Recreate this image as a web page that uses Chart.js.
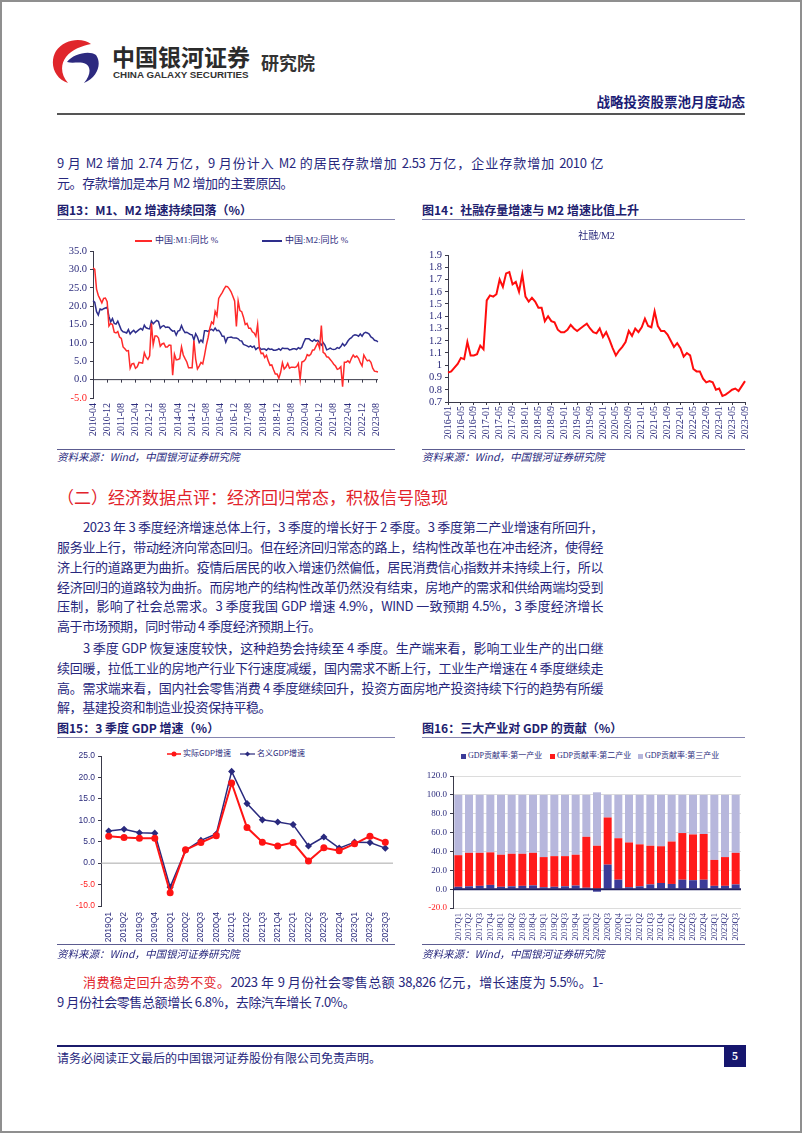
<!DOCTYPE html>
<html>
<head>
<meta charset="utf-8">
<script src="https://cdn.jsdelivr.net/npm/chart.js@4.4.0/dist/chart.umd.min.js"></script>
<style>
body { margin: 0; background: #fff; }
#page { position: relative; width: 802px; height: 1133px; overflow: hidden; background: #fff;
  font-family: "Noto Sans CJK SC", "Noto Sans", sans-serif; color: #27277d; }
.frame { position: absolute; left: 0; top: 0; width: 802px; height: 1133px; box-sizing: border-box; border: 2px solid #8f8f8f; pointer-events: none; }
.abs { position: absolute; white-space: nowrap; }
.ln { position: absolute; left: 57px; width: 546px; height: 20px; line-height: 20px; font-size: 13px;
  letter-spacing: -0.4px; text-align: justify; text-align-last: justify; box-sizing: border-box; }
.ln.last { text-align-last: left; }
.ln.ind { padding-left: 26px; }
.ftitle { position: absolute; font-size: 12px; font-weight: bold; color: #20206e; line-height: 16px; white-space: nowrap; }
.fline { position: absolute; height: 0; border-top: 1.5px solid #8585b0; }
.src { position: absolute; font-size: 10.5px; font-style: italic; color: #27277d; line-height: 14px; white-space: nowrap; }
.sline { position: absolute; height: 0; border-top: 1px solid #5c5c90; }
canvas { position: absolute; }
.lg { position: absolute; font-family: "Liberation Serif", "Noto Sans CJK SC", serif; color: #2b2b7c; white-space: nowrap; line-height: 12px; }
.lgl { display: inline-block; height: 2px; vertical-align: middle; margin-right: 3px; }
.lgs { display: inline-block; width: 5px; height: 5px; vertical-align: middle; margin-right: 2px; }
</style>
</head>
<body>
<div id="page">
  <!-- header -->
  <svg class="abs" style="left:51px;top:38px" width="50" height="46" viewBox="0 0 50 46">
    <path d="M40,6 C31,-1 13,1 5,13 C-2,25 3,40 17,45 C10,37 9,27 15,19 C21,11 31,8 40,6 Z" fill="#e0262b"/>
    <path d="M16,24 C22,16 38,12 45,17 C51,25 47,39 33,45 C40,37 40,29 35,26 C29,23 22,26 16,24 Z" fill="#2d2a7f"/>
  </svg>
  <div class="abs" style="left:112px;top:42px;font-size:23px;font-weight:bold;line-height:28px;color:#2b2b2b">中国银河证券</div>
  <div class="abs" style="left:113px;top:68px;font-family:'Liberation Sans',sans-serif;font-size:9.8px;font-weight:bold;line-height:13px;color:#333">CHINA GALAXY SECURITIES</div>
  <div class="abs" style="left:261px;top:50px;font-size:18px;font-weight:bold;line-height:24px;color:#333">研究院</div>
  <div class="abs" style="right:57px;top:92px;font-size:13.5px;font-weight:bold;line-height:18px;color:#1c1c75">战略投资股票池月度动态</div>
  <div class="abs" style="left:57px;top:113px;width:688px;height:2px;background:#555"></div>

  <div class="ln" style="top:153px">9 月 M2 增加 2.74 万亿，9 月份计入 M2 的居民存款增加 2.53 万亿，企业存款增加 2010 亿</div>
  <div class="ln last" style="top:173px">元。存款增加是本月 M2 增加的主要原因。</div>

  <!-- fig 13 / 14 -->
  <div class="ftitle" style="left:57px;top:202px">图13：M1、M2 增速持续回落（%）</div>
  <div class="fline" style="left:57px;top:219px;width:338px"></div>
  <div class="ftitle" style="left:422px;top:202px">图14：社融存量增速与 M2 增速比值上升</div>
  <div class="fline" style="left:422px;top:219px;width:323px"></div>

  <div class="lg" style="left:135px;top:234px;font-size:9px"><span class="lgl" style="background:#ff2a2a;width:17px"></span>中国:M1:同比 %</div>
  <div class="lg" style="left:262px;top:234px;font-size:9px"><span class="lgl" style="background:#2e2e8c;width:20px"></span>中国:M2:同比 %</div>
  <canvas id="c13" width="338" height="220" style="left:57px;top:228px"></canvas>
  <canvas id="c14" width="340" height="220" style="left:418px;top:228px"></canvas>

  <div class="sline" style="left:57px;top:449px;width:338px"></div>
  <div class="src" style="left:57px;top:450px">资料来源：Wind，中国银河证券研究院</div>
  <div class="sline" style="left:422px;top:449px;width:323px"></div>
  <div class="src" style="left:422px;top:450px">资料来源：Wind，中国银河证券研究院</div>

  <!-- section -->
  <div class="abs" style="left:57px;top:486px;font-size:17px;line-height:22px;color:#e2232b">（二）经济数据点评：经济回归常态，积极信号隐现</div>

  <div class="ln ind" style="top:517px">2023 年 3 季度经济增速总体上行，3 季度的增长好于 2 季度。3 季度第二产业增速有所回升，</div>
  <div class="ln" style="top:537px">服务业上行，带动经济向常态回归。但在经济回归常态的路上，结构性改革也在冲击经济，使得经</div>
  <div class="ln" style="top:557px">济上行的道路更为曲折。疫情后居民的收入增速仍然偏低，居民消费信心指数并未持续上行，所以</div>
  <div class="ln" style="top:577px">经济回归的道路较为曲折。而房地产的结构性改革仍然没有结束，房地产的需求和供给两端均受到</div>
  <div class="ln" style="top:596px">压制，影响了社会总需求。3 季度我国 GDP 增速 4.9%，WIND 一致预期 4.5%，3 季度经济增长</div>
  <div class="ln last" style="top:616px">高于市场预期，同时带动 4 季度经济预期上行。</div>

  <div class="ln ind" style="top:638px">3 季度 GDP 恢复速度较快，这种趋势会持续至 4 季度。生产端来看，影响工业生产的出口继</div>
  <div class="ln" style="top:658px">续回暖，拉低工业的房地产行业下行速度减缓，国内需求不断上行，工业生产增速在 4 季度继续走</div>
  <div class="ln" style="top:678px">高。需求端来看，国内社会零售消费 4 季度继续回升，投资方面房地产投资持续下行的趋势有所缓</div>
  <div class="ln last" style="top:697px">解，基建投资和制造业投资保持平稳。</div>

  <!-- fig 15 / 16 -->
  <div class="ftitle" style="left:57px;top:720px">图15：3 季度 GDP 增速（%）</div>
  <div class="fline" style="left:57px;top:737px;width:338px"></div>
  <div class="ftitle" style="left:422px;top:720px">图16：三大产业对 GDP 的贡献（%）</div>
  <div class="fline" style="left:422px;top:737px;width:323px"></div>

  <div class="lg" style="left:167px;top:747px;font-size:8px;font-family:'Noto Sans CJK SC',sans-serif">
    <svg width="14" height="8" style="vertical-align:middle;margin-right:2px"><line x1="0" y1="4" x2="14" y2="4" stroke="#ff1414" stroke-width="1.5"/><circle cx="7" cy="4" r="2.5" fill="#ff1414"/></svg>实际GDP增速</div>
  <div class="lg" style="left:240px;top:747px;font-size:8px;font-family:'Noto Sans CJK SC',sans-serif">
    <svg width="15" height="8" style="vertical-align:middle;margin-right:2px"><line x1="0" y1="4" x2="15" y2="4" stroke="#2a2a7e" stroke-width="1.2"/><path d="M7.5,1.5 L10,4 L7.5,6.5 L5,4 Z" fill="#2a2a7e"/></svg>名义GDP增速</div>

  <div class="lg" style="left:461px;top:750px;font-size:8px"><span class="lgs" style="background:#3b3b98"></span>GDP贡献率:第一产业</div>
  <div class="lg" style="left:550px;top:750px;font-size:8px"><span class="lgs" style="background:#ff1a1a"></span>GDP贡献率:第二产业</div>
  <div class="lg" style="left:638px;top:750px;font-size:8px"><span class="lgs" style="background:#b7b7dc"></span>GDP贡献率:第三产业</div>

  <canvas id="c15" width="345" height="200" style="left:57px;top:746px"></canvas>
  <canvas id="c16" width="340" height="200" style="left:418px;top:746px"></canvas>

  <div class="sline" style="left:57px;top:944px;width:338px"></div>
  <div class="src" style="left:57px;top:947px">资料来源：Wind，中国银河证券研究院</div>
  <div class="sline" style="left:422px;top:944px;width:323px"></div>
  <div class="src" style="left:422px;top:947px">资料来源：Wind，中国银河证券研究院</div>

  <div class="ln ind" style="top:972px"><span style="color:#e2232b">消费稳定回升态势不变。</span>2023 年 9 月份社会零售总额 38,826 亿元，增长速度为 5.5%。1-</div>
  <div class="ln last" style="top:992px">9 月份社会零售总额增长 6.8%，去除汽车增长 7.0%。</div>

  <!-- footer -->
  <div class="abs" style="left:57px;top:1045px;width:667px;height:2px;background:#1b1b6b"></div>
  <div class="abs" style="left:57px;top:1050px;font-size:12px;line-height:16px">请务必阅读正文最后的中国银河证券股份有限公司免责声明。</div>
  <div class="abs" style="left:724px;top:1045px;width:22px;height:22px;background:#16166e;color:#fff;font-family:'Liberation Serif',serif;font-weight:bold;font-size:12px;line-height:22px;text-align:center">5</div>

  <div class="frame"></div>
</div>

<script>
// 图13 M1 / M2 同比 (%), 2010-04 .. 2023-09
const m1 = [
  30.4, 30.0, 24.6, 22.9, 21.9, 20.9, 22.1, 22.2, 21.2,
  14.6, 15.3, 15.0, 12.9, 12.7, 13.1, 11.6, 11.2, 8.9, 8.4, 7.8, 7.9,
  3.1, 4.3, 4.4, 3.1, 3.5, 4.7, 4.6, 4.5, 7.3, 6.1, 5.5, 6.5,
  15.3, 9.5, 11.9, 11.9, 11.3, 9.1, 9.7, 9.9, 8.9, 8.9, 9.4, 9.3,
  1.2, 6.9, 5.4, 5.5, 5.7, 8.9, 6.7, 5.7, 4.8, 3.2, 3.2, 3.2,
  10.6, 5.6, 2.9, 3.7, 4.7, 4.3, 6.6, 9.3, 11.4, 14.0, 15.7, 15.2,
  18.6, 17.4, 22.1, 22.9, 23.7, 24.6, 25.4, 25.3, 24.7, 23.9, 22.7, 21.4,
  14.5, 21.4, 18.8, 18.5, 17.0, 15.0, 15.3, 14.0, 14.0, 13.0, 12.7, 11.8,
  15.0, 8.5, 7.1, 7.2, 6.0, 6.6, 5.1, 3.9, 4.0, 2.7, 1.5, 1.5,
  0.4, 2.0, 4.6, 2.9, 3.4, 4.4, 3.1, 3.4, 3.4, 3.3, 3.5, 4.4,
  0.0, 4.8, 5.0, 5.5, 6.8, 6.5, 6.9, 8.0, 8.1, 9.1, 10.0, 8.6,
  14.7, 7.4, 7.1, 6.2, 6.1, 5.5, 4.9, 4.2, 3.7, 2.8, 3.0, 3.5,
  -1.9, 4.7, 4.7, 5.1, 4.6, 5.8, 6.7, 6.1, 6.4, 5.8, 4.6, 3.7,
  6.7, 5.8, 5.1, 5.3, 4.7, 3.1, 2.3, 2.2, 2.1
];
const m2 = [
  21.5, 21.0, 18.5, 17.6, 19.2, 19.0, 19.3, 19.5, 19.7,
  17.2, 15.7, 16.6, 15.3, 15.1, 15.9, 14.7, 13.5, 13.0, 12.9, 12.7, 13.6,
  12.4, 13.0, 13.4, 12.8, 13.2, 13.6, 13.9, 13.5, 14.8, 14.1, 13.9, 13.8,
  15.9, 15.2, 15.7, 16.1, 15.8, 14.0, 14.5, 14.7, 14.2, 14.3, 14.2, 13.6,
  13.2, 13.3, 12.1, 13.2, 13.4, 14.7, 13.5, 12.8, 12.9, 12.6, 12.3, 12.2,
  10.8, 12.5, 11.6, 10.1, 10.8, 10.2, 13.3, 13.3, 13.1, 13.5, 13.7, 13.3,
  14.0, 13.3, 13.4, 12.8, 11.8, 11.8, 10.2, 11.4, 11.5, 11.6, 11.4, 11.3,
  11.3, 11.1, 10.6, 10.5, 9.6, 9.4, 9.2, 8.9, 9.2, 8.8, 9.1, 8.2,
  8.6, 8.8, 8.2, 8.3, 8.3, 8.0, 8.5, 8.2, 8.3, 8.0, 8.0, 8.1,
  8.4, 8.0, 8.6, 8.5, 8.5, 8.5, 8.1, 8.2, 8.4, 8.4, 8.2, 8.7,
  8.4, 8.8, 10.1, 11.1, 11.1, 11.1, 10.7, 10.4, 10.9, 10.5, 10.7, 10.1,
  9.4, 10.1, 9.4, 8.1, 8.3, 8.6, 8.3, 8.2, 8.3, 8.7, 8.5, 9.0,
  9.8, 9.2, 9.7, 10.5, 11.1, 11.4, 12.0, 12.2, 12.1, 11.8, 12.4, 11.8,
  12.6, 12.9, 12.7, 12.4, 11.6, 11.3, 10.7, 10.6, 10.3
];
const m1Names = ['中国:M1:同比 %', '中国:M2:同比 %'];
const m1YTicks = [-5, 0, 5, 10, 15, 20, 25, 30, 35];

// 图14 社融/M2, 2016-01 .. 2023-09
const tsfRatio = [
  0.94, 0.95, 0.98, 1.01, 1.06, 1.05, 1.19, 1.08, 1.08, 1.09, 1.16, 1.13,
  1.53, 1.57, 1.56, 1.58, 1.70, 1.64, 1.75, 1.76, 1.66, 1.68, 1.60, 1.74,
  1.56, 1.52, 1.55, 1.52, 1.47, 1.47, 1.36, 1.40, 1.36, 1.35, 1.29, 1.27,
  1.27, 1.29, 1.33, 1.30, 1.28, 1.30, 1.32, 1.34, 1.30, 1.27, 1.26, 1.30,
  1.23, 1.27, 1.21, 1.14, 1.08, 1.12, 1.15, 1.19, 1.28, 1.24, 1.30, 1.27,
  1.31, 1.38, 1.32, 1.31, 1.44, 1.32, 1.28, 1.28, 1.25, 1.20, 1.15, 1.18,
  1.14, 1.07, 1.10, 1.08, 0.97, 0.95, 0.95, 0.89, 0.86, 0.87, 0.86, 0.80,
  0.81, 0.75, 0.76, 0.78, 0.80, 0.81, 0.79, 0.83, 0.87
];
const ratioYTicks = [0.7, 0.8, 0.9, 1, 1.1, 1.2, 1.3, 1.4, 1.5, 1.6, 1.7, 1.8, 1.9];

// 图15 GDP 增速
const gdpQuarters = ['2019Q1','2019Q2','2019Q3','2019Q4','2020Q1','2020Q2','2020Q3','2020Q4',
  '2021Q1','2021Q2','2021Q3','2021Q4','2022Q1','2022Q2','2022Q3','2022Q4','2023Q1','2023Q2','2023Q3'];
const realGdp = [6.3, 6.0, 5.8, 5.8, -6.9, 3.1, 4.8, 6.4, 18.7, 8.3, 4.9, 4.0, 4.8, 0.5, 3.6, 2.9, 4.5, 6.3, 4.9];
const nominalGdp = [7.5, 7.9, 7.1, 7.0, -5.6, 3.0, 5.3, 6.8, 21.4, 13.9, 10.1, 9.6, 9.0, 4.0, 6.1, 3.5, 4.9, 4.8, 3.5];
const gdpYTicks = [-10, -5, 0, 5, 10, 15, 20, 25];

// 图16 三大产业贡献率
const contribQuarters = ['2017Q1','2017Q2','2017Q3','2017Q4','2018Q1','2018Q2','2018Q3','2018Q4',
  '2019Q1','2019Q2','2019Q3','2019Q4','2020Q1','2020Q2','2020Q3','2020Q4','2021Q1','2021Q2','2021Q3','2021Q4',
  '2022Q1','2022Q2','2022Q3','2022Q4','2023Q1','2023Q2','2023Q3'];
const primaryInd = [2.5, 3, 3.5, 4.5, 2.5, 3, 3.5, 4, 2, 2.5, 3, 3.8, 1.5, -2.7, 26, 10, 2, 3, 5, 6.5, 5.5, 10, 9.5, 10, 3.5, 3.5, 5];
const secondaryInd = [33.5, 35.5, 35, 34.5, 34, 34.5, 34, 34.5, 32, 32.5, 32, 32.7, 54, 46, 50, 44, 47.5, 44.5, 41, 39, 45, 49.5, 48.5, 48.5, 27.5, 30.5, 33.5];
const tertiaryInd = [64, 61.5, 61.5, 61, 63.5, 62.5, 62.5, 61.5, 66, 65, 65, 63.5, 44.5, 56.7, 24, 46, 50.5, 52.5, 54, 54.5, 49.5, 40.5, 42, 41.5, 69, 66, 61.5];
const contribYTicks = [-20, 0, 20, 40, 60, 80, 100, 120];

const NAVY = '#2b2b7c';
const RED = '#ff1f1f';
const AXIS = '#3a3a4a';

const monthLabels = (y, m, n) => {
  const out = [];
  for (let i = 0; i < n; i++) {
    out.push(y + '-' + String(m).padStart(2, '0'));
    m++;
    if (m > 12) { m = 1; y++; }
  }
  return out;
};

const negRed = ctx => (ctx.tick && ctx.tick.value < 0 ? RED : NAVY);
const fixedTicks = list => scale => { scale.ticks = list.map(v => ({ value: v })); };

// zero line (+ small ticks) drawn through the y scale
const zeroAxis = {
  id: 'zeroAxis',
  draw(chart, opts) {
    const { ctx, chartArea, scales: { x, y } } = chart;
    const y0 = y.getPixelForValue(0);
    ctx.save();
    ctx.strokeStyle = opts.color;
    ctx.lineWidth = opts.width;
    ctx.beginPath();
    ctx.moveTo(chartArea.left, y0);
    ctx.lineTo(chartArea.right, y0);
    if (opts.tickLen) {
      x.ticks.forEach((t, i) => {
        if (!t.label) return;
        const px = Math.round(x.getPixelForTick(i)) + 0.5;
        ctx.moveTo(px, y0);
        ctx.lineTo(px, y0 + opts.tickLen);
      });
    }
    ctx.stroke();
    ctx.restore();
  },
  beforeDatasetsDraw(chart, args, opts) { if (!opts.above) this.draw(chart, opts); },
  afterDatasetsDraw(chart, args, opts) { if (opts.above) this.draw(chart, opts); }
};

Chart.defaults.color = NAVY;

// 图13
new Chart(document.getElementById('c13'), {
  type: 'line',
  data: {
    labels: monthLabels(2010, 4, m1.length),
    datasets: [
      { label: m1Names[0], data: m1, borderColor: '#ff2a2a', borderWidth: 1.5, pointRadius: 0, tension: 0 },
      { label: m1Names[1], data: m2, borderColor: '#2e2e8c', borderWidth: 1.5, pointRadius: 0, tension: 0 }
    ]
  },
  plugins: [zeroAxis],
  options: {
    responsive: false, animation: false,
    layout: { padding: { top: 23, left: 2, right: 17, bottom: 2 } },
    plugins: {
      legend: { display: false }, tooltip: { enabled: false },
      zeroAxis: { color: AXIS, width: 1, tickLen: 3, above: false }
    },
    scales: {
      x: {
        grid: { display: false, drawTicks: false }, border: { display: false },
        ticks: {
          autoSkip: false, maxRotation: 90, minRotation: 90, padding: 5,
          font: { family: 'Liberation Serif', size: 10 }, color: NAVY,
          callback: function (v, i) { return i % 8 === 0 ? this.getLabelForValue(v) : ''; }
        },
        afterFit: s => { s.height = 48; }
      },
      y: {
        min: -5, max: 35,
        afterBuildTicks: fixedTicks(m1YTicks),
        ticks: { autoSkip: false, padding: 3, font: { family: 'Liberation Serif', size: 10.5 }, color: negRed, callback: v => v.toFixed(1) },
        grid: { drawOnChartArea: false, tickLength: 3, color: AXIS },
        border: { display: true, color: AXIS },
        afterFit: s => { s.width = 34; }
      }
    }
  }
});

// 图14
new Chart(document.getElementById('c14'), {
  type: 'line',
  data: {
    labels: monthLabels(2016, 1, tsfRatio.length),
    datasets: [{ label: '社融/M2', data: tsfRatio, borderColor: '#ff0d0d', borderWidth: 2, pointRadius: 0, tension: 0 }]
  },
  options: {
    responsive: false, animation: false,
    layout: { padding: { top: 2, left: 2, right: 13, bottom: 2 } },
    plugins: {
      legend: { display: false }, tooltip: { enabled: false },
      title: {
        display: true, text: '社融/M2', fullSize: false, color: NAVY,
        font: { family: "'Liberation Serif', 'Noto Sans CJK SC'", size: 10, weight: 'normal', lineHeight: 1.2 },
        padding: { top: 0, bottom: 13 }
      }
    },
    scales: {
      x: {
        grid: { drawOnChartArea: false, tickLength: 3, color: AXIS },
        border: { display: true, color: AXIS },
        ticks: {
          autoSkip: false, maxRotation: 90, minRotation: 90, padding: 1,
          font: { family: 'Liberation Serif', size: 10 }, color: NAVY,
          callback: function (v, i) { return i % 4 === 0 ? this.getLabelForValue(v) : null; }
        },
        afterFit: s => { s.height = 44; }
      },
      y: {
        min: 0.7, max: 1.9,
        afterBuildTicks: fixedTicks(ratioYTicks),
        ticks: { autoSkip: false, padding: 3, font: { family: 'Liberation Serif', size: 10.5 }, color: NAVY, callback: v => String(v) },
        grid: { drawOnChartArea: false, tickLength: 3, color: AXIS },
        border: { display: true, color: AXIS },
        afterFit: s => { s.width = 28; }
      }
    }
  }
});

// 图15
new Chart(document.getElementById('c15'), {
  type: 'line',
  data: {
    labels: gdpQuarters,
    datasets: [
      { label: '实际GDP增速', data: realGdp, borderColor: '#ff1414', backgroundColor: '#ff1414', borderWidth: 2,
        pointRadius: 2.5, pointStyle: 'circle', tension: 0 },
      { label: '名义GDP增速', data: nominalGdp, borderColor: '#2a2a7e', backgroundColor: '#2a2a7e', borderWidth: 1.5,
        pointRadius: 2.5, pointStyle: 'rectRot', tension: 0 }
    ]
  },
  plugins: [zeroAxis],
  options: {
    responsive: false, animation: false,
    layout: { padding: { top: 10, left: 2, right: 9, bottom: 1 } },
    plugins: {
      legend: { display: false }, tooltip: { enabled: false },
      zeroAxis: { color: '#a8a8a8', width: 1, tickLen: 0, above: false }
    },
    scales: {
      x: {
        offset: true,
        grid: { display: false, drawTicks: false }, border: { display: false },
        ticks: { autoSkip: false, maxRotation: 90, minRotation: 90, padding: 6, font: { family: 'Liberation Sans', size: 8.5 }, color: NAVY },
        afterFit: s => { s.height = 39; }
      },
      y: {
        min: -10, max: 25,
        afterBuildTicks: fixedTicks(gdpYTicks),
        ticks: { autoSkip: false, padding: 3, font: { family: 'Liberation Sans', size: 8.5 }, color: negRed, callback: v => v.toFixed(1) },
        grid: { drawOnChartArea: false, tickLength: 3, color: AXIS },
        border: { display: true, color: AXIS },
        afterFit: s => { s.width = 42; }
      }
    }
  }
});

// 图16
new Chart(document.getElementById('c16'), {
  type: 'bar',
  data: {
    labels: contribQuarters,
    datasets: [
      { label: 'GDP贡献率:第一产业', data: primaryInd, backgroundColor: '#3b3b98' },
      { label: 'GDP贡献率:第二产业', data: secondaryInd, backgroundColor: '#ff1a1a' },
      { label: 'GDP贡献率:第三产业', data: tertiaryInd, backgroundColor: '#b7b7dc' }
    ]
  },
  plugins: [zeroAxis],
  options: {
    responsive: false, animation: false,
    datasets: { bar: { barPercentage: 0.75, categoryPercentage: 1 } },
    layout: { padding: { top: 30, left: 2, right: 17, bottom: 1 } },
    plugins: {
      legend: { display: false }, tooltip: { enabled: false },
      zeroAxis: { color: '#1f1f5f', width: 2, tickLen: 0, above: true }
    },
    scales: {
      x: {
        stacked: true,
        grid: { display: false, drawTicks: false }, border: { display: false },
        ticks: { autoSkip: false, maxRotation: 90, minRotation: 90, padding: 5, font: { family: 'Liberation Serif', size: 8.5 }, color: NAVY },
        afterFit: s => { s.height = 37; }
      },
      y: {
        stacked: true, min: -20, max: 120,
        afterBuildTicks: fixedTicks(contribYTicks),
        ticks: { autoSkip: false, padding: 3, font: { family: 'Liberation Serif', size: 9 }, color: negRed, callback: v => v.toFixed(1) },
        grid: { color: '#dcdcdc', tickColor: AXIS, tickLength: 3 },
        border: { display: true, color: AXIS },
        afterFit: s => { s.width = 33; }
      }
    }
  }
});
</script>
</body>
</html>
